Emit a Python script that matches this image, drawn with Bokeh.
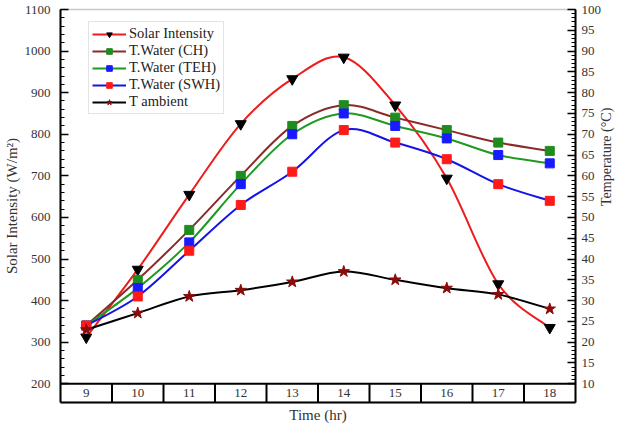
import math
from bokeh.plotting import figure
from bokeh.models import Range1d, LinearAxis, FixedTicker, ColumnDataSource
from bokeh.core.properties import value
from bokeh.embed import file_html
from bokeh.resources import INLINE

hours = [9, 10, 11, 12, 13, 14, 15, 16, 17, 18]
solar = [312, 475, 655, 825, 933, 985, 870, 694, 440, 335]
t_ch = [24, 35, 47, 60, 72, 77, 74, 71, 68, 66]
t_teh = [24, 33, 44, 58, 70, 75, 72, 69, 65, 63]
t_swh = [24, 31, 42, 53, 61, 71, 68, 64, 58, 54]
t_amb = [23, 27, 31, 32.5, 34.5, 37, 35, 33, 31.5, 28]
hour_labels = [str(h) for h in hours]

FONT = "Liberation Serif"
W, H = 624, 425
ML, MR, MT, MB = 60, 44, 9, 22
FW, FH = W - ML - MR, H - MT - MB

p = figure(width=W, height=H, output_backend="svg", toolbar_location=None,
           x_range=Range1d(8.5, 18.5), y_range=Range1d(155, 1100),
           min_border_left=ML, min_border_right=MR, min_border_top=MT, min_border_bottom=MB)
p.extra_y_ranges = {"temp": Range1d(5.5, 100)}
p.grid.visible = False
p.background_fill_color = "white"
p.border_fill_color = "white"
p.outline_line_color = "#c8c8c8"
p.outline_line_width = 1.5

# left axis
ya = p.yaxis[0]
ya.ticker = FixedTicker(ticks=list(range(200, 1101, 100)), minor_ticks=list(range(200, 1101, 20)))
ya.axis_label = "Solar Intensity (W/m²)"
ya.axis_label_text_font = FONT
ya.axis_label_text_font_size = "15px"
ya.axis_label_text_font_style = "normal"
ya.axis_label_text_color = "#333333"
ya.axis_label_standoff = 2
ya.major_label_text_font = FONT
ya.major_label_text_font_size = "13px"
ya.major_label_text_color = "#333333"
ya.major_label_standoff = 10
ya.major_tick_in = 8
ya.major_tick_out = 0
ya.minor_tick_in = 4
ya.minor_tick_out = 0
ya.axis_line_width = 2
ya.major_tick_line_width = 1.5
ya.axis_line_color = "black"

# right axis
ra = LinearAxis(y_range_name="temp",
                ticker=FixedTicker(ticks=list(range(10, 101, 5)), minor_ticks=list(range(10, 101, 1))))
ra.axis_label = "Temperature (°C)"
ra.axis_label_orientation = math.pi / 2
ra.axis_label_text_align = "center"
ra.axis_label_text_font = FONT
ra.axis_label_text_font_size = "14px"
ra.axis_label_text_font_style = "normal"
ra.axis_label_text_color = "#333333"
ra.axis_label_standoff = 2
ra.major_label_text_font = FONT
ra.major_label_text_font_size = "13px"
ra.major_label_text_color = "#333333"
ra.major_label_standoff = 6
ra.major_tick_in = 8
ra.major_tick_out = 0
ra.minor_tick_in = 4
ra.minor_tick_out = 0
ra.axis_line_width = 2
ra.major_tick_line_width = 1.5
p.add_layout(ra, "right")

# bottom axis (table row)
xa = p.xaxis[0]
xa.ticker = FixedTicker(ticks=[])
xa.axis_label = "Time (hr)"
xa.axis_label_text_font = FONT
xa.axis_label_text_font_size = "15px"
xa.axis_label_text_font_style = "normal"
xa.axis_label_text_color = "#333333"
xa.axis_label_standoff = 4
xa.major_label_standoff = 0
xa.major_tick_out = 0
xa.major_tick_in = 0
xa.minor_tick_out = 0
xa.minor_tick_in = 0
xa.axis_line_width = 2

# table row of hours
edges = [h + 0.5 for h in hours[:-1]]
p.segment(x0=edges, y0=[155] * len(edges), x1=edges, y1=[200] * len(edges),
          line_color="black", line_width=2)
p.segment(x0=[8.5], y0=[200], x1=[18.5], y1=[200], line_color="black", line_width=2)
p.text(x=hours, y=[177.5] * len(hours), text=hour_labels, text_align="center",
       text_baseline="middle", text_font=value(FONT), text_font_size="13px", text_color="#333333")


def smooth(xs, ys):
    n = len(xs)
    P = list(zip(xs, ys))
    x0, y0, x1, y1, cx0, cy0, cx1, cy1 = [], [], [], [], [], [], [], []
    for i in range(n - 1):
        pm = P[i - 1] if i > 0 else P[i]
        p0 = P[i]
        p1 = P[i + 1]
        p2 = P[i + 2] if i + 2 < n else P[i + 1]
        x0.append(p0[0]); y0.append(p0[1]); x1.append(p1[0]); y1.append(p1[1])
        cx0.append(p0[0] + (p1[0] - pm[0]) / 6); cy0.append(p0[1] + (p1[1] - pm[1]) / 6)
        cx1.append(p1[0] - (p2[0] - p0[0]) / 6); cy1.append(p1[1] - (p2[1] - p0[1]) / 6)
    return ColumnDataSource(dict(x0=x0, y0=y0, x1=x1, y1=y1, cx0=cx0, cy0=cy0, cx1=cx1, cy1=cy1))


series = [
    ("Solar Intensity", solar, "default", "#ee1c1c", "inverted_triangle", "black", 11),
    ("T.Water (CH)", t_ch, "temp", "#8b2a2a", "square", "#1e8c1e", 9),
    ("T.Water (TEH)", t_teh, "temp", "#1f9a1f", "square", "#1a1aff", 9),
    ("T.Water (SWH)", t_swh, "temp", "#1414e6", "square", "#ff1a1a", 9),
    ("T ambient", t_amb, "temp", "black", "star", "#8b0a0a", 12),
]

for label, ys, rng, lc, marker, mc, ms in series:
    src = smooth(hours, ys)
    p.bezier(x0="x0", y0="y0", x1="x1", y1="y1", cx0="cx0", cy0="cy0", cx1="cx1", cy1="cy1",
             source=src, line_color=lc, line_width=2, y_range_name=rng, legend_label=label)
    p.scatter(x=hours, y=ys, marker=marker, size=ms, fill_color=mc, line_color=mc,
              y_range_name=rng, legend_label=label)

lg = p.legend[0]
lg.location = (28, FH - 16 - 90)
lg.label_text_font = FONT
lg.label_text_font_size = "14.5px"
lg.label_text_color = "#222222"
lg.label_height = 14
lg.glyph_height = 14
lg.glyph_width = 34
lg.spacing = 0
lg.padding = 3
lg.margin = 0
lg.label_standoff = 3
lg.border_line_color = "#c8c8c8"
lg.border_line_width = 1
lg.background_fill_alpha = 1.0

open("out.html", "w").write(file_html(p, INLINE))
